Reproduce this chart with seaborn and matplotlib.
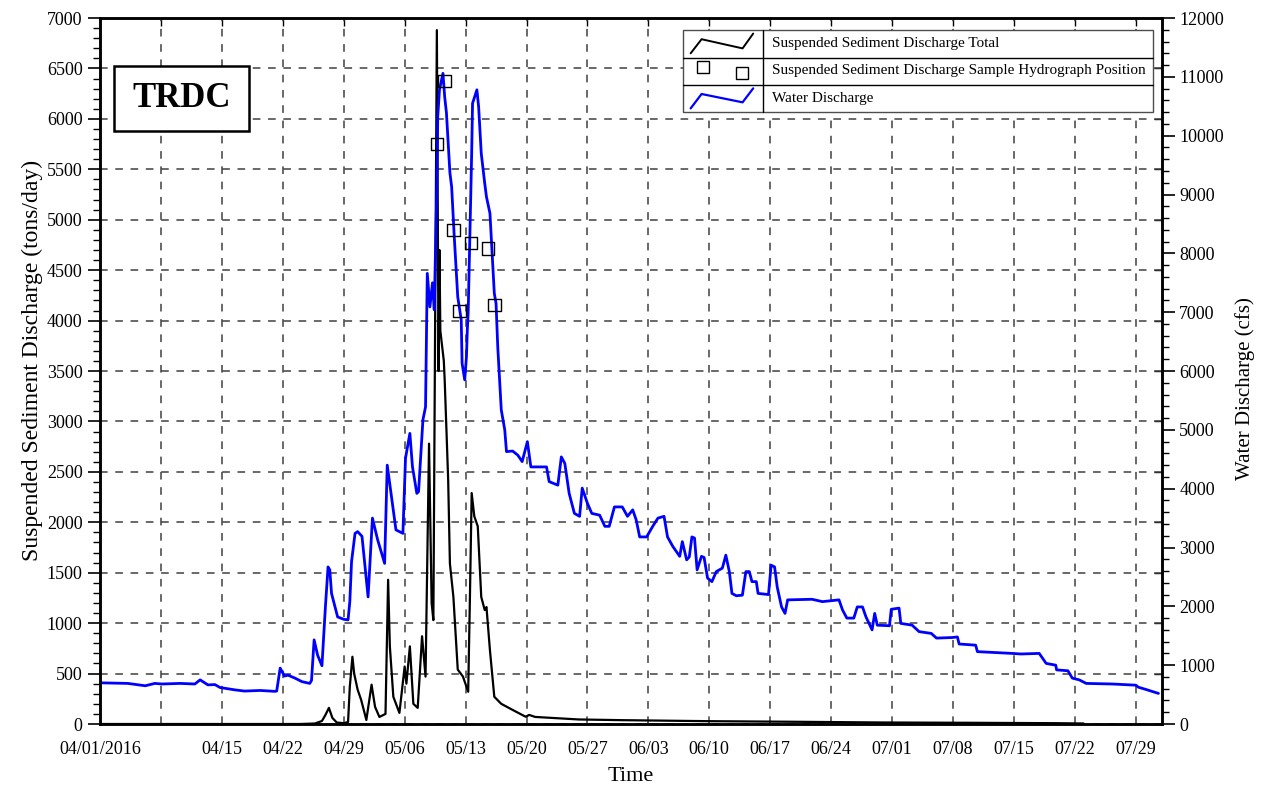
import numpy as np
import pandas as pd
import matplotlib
matplotlib.use('Agg')
import matplotlib.pyplot as plt
import matplotlib.dates as mdates
from matplotlib.ticker import MultipleLocator
from matplotlib.patches import Rectangle
import seaborn as sns

start = pd.Timestamp('2016-04-01')

# water discharge (cfs), time given as days since 04/01/2016
flow_days = [0.0, 3.2, 5.2, 6.3, 7.1, 9.2, 10.9, 11.5, 12.4, 13.2, 13.8, 15.5, 16.6, 18.4, 20.1, 20.3,
             20.7, 21.2, 21.6, 22.4, 23.2, 24.1, 24.3, 24.6, 25.0, 25.5, 25.9, 26.2, 26.4, 26.6, 27.3,
             28.0, 28.5, 28.7, 28.9, 29.3, 29.6, 30.1, 30.8, 31.3, 31.9, 32.7, 33.0, 34.0, 34.8, 35.1,
             35.6, 35.9, 36.4, 36.6, 37.1, 37.4, 37.6, 37.9, 38.2, 38.4, 38.7, 38.8, 39.0, 39.4, 39.6,
             39.8, 40.2, 40.4, 40.7, 41.1, 41.5, 41.6, 41.9, 42.1, 42.2, 42.3, 42.7, 42.8, 43.3, 43.5,
             43.8, 44.2, 44.4, 44.8, 45.3, 45.5, 45.7, 46.1, 46.5, 46.7, 47.4, 48.0, 48.5, 49.1, 49.5,
             51.3, 51.6, 52.6, 53.0, 53.4, 53.9, 54.5, 55.1, 55.4, 56.0, 56.5, 57.4, 58.0, 58.5, 59.1,
             60.0, 60.6, 61.2, 61.6, 62.0, 62.8, 63.5, 64.1, 64.8, 65.2, 65.8, 66.6, 66.9, 67.4, 67.7,
             68.0, 68.3, 68.6, 69.1, 69.4, 69.8, 70.3, 70.8, 71.5, 71.9, 72.3, 72.6, 73.1, 73.8, 74.2,
             74.6, 74.9, 75.4, 75.6, 76.8, 77.1, 77.5, 77.8, 78.3, 78.7, 79.0, 81.8, 83.0, 84.9, 85.3,
             85.8, 86.6, 87.0, 87.6, 88.0, 88.7, 89.0, 89.3, 90.7, 90.9, 91.8, 92.0, 93.3, 94.1, 95.5,
             96.1, 97.9, 98.5, 98.7, 100.6, 100.8, 104.8, 105.8, 107.9, 108.7, 109.8, 109.9, 111.2,
             111.7, 112.5, 113.3, 116.3, 119.0, 119.3, 120.1, 121.6]
flow_cfs = [700, 690, 650, 690, 680, 690, 680, 750, 665, 670, 620, 580, 560, 570, 555, 560,
            950, 815, 830, 780, 720, 690, 740, 1430, 1170, 990, 2000, 2670, 2620, 2220, 1820,
            1780, 1770, 2080, 2760, 3240, 3270, 3190, 2160, 3500, 3130, 2730, 4400, 3300, 3240, 4520,
            4940, 4370, 3920, 3950, 5170, 5390, 7660, 7090, 7500, 7040, 9130, 10320, 10780, 11060, 10660,
            10390, 9370, 9130, 8280, 7260, 6870, 6130, 5850, 6240, 6700, 7000, 9700, 10550, 10780, 10490,
            9700, 9190, 8960, 8680, 7320, 7150, 6400, 5340, 5000, 4630, 4640, 4570, 4460, 4800, 4370,
            4370, 4120, 4060, 4540, 4430, 3920, 3580, 3530, 4010, 3750, 3580, 3550, 3360, 3360, 3690,
            3690, 3530, 3640, 3470, 3180, 3180, 3360, 3500, 3530, 3180, 3020, 2850, 3100, 2790, 2840,
            3180, 3160, 2620, 2850, 2830, 2480, 2420, 2590, 2650, 2870, 2590, 2220, 2180, 2190, 2590,
            2590, 2420, 2420, 2220, 2200, 2700, 2670, 2330, 1990, 1880, 2110, 2120, 2080, 2110, 1940,
            1800, 1800, 1990, 1990, 1820, 1600, 1880, 1680, 1670, 1950, 1970, 1710, 1680, 1570, 1540,
            1460, 1470, 1480, 1360, 1340, 1230, 1200, 1190, 1200, 1030, 1000, 920, 905,
            780, 750, 690, 680, 660, 625, 590, 520]

# suspended sediment discharge (tons/day)
sed_days = [0.0, 23.0, 24.7, 25.5, 25.9, 26.3, 26.7, 27.2, 28.0, 28.5, 28.7, 29.0, 29.2, 29.6, 30.0,
            30.6, 31.2, 31.6, 32.1, 32.8, 33.1, 33.3, 33.7, 34.4, 35.0, 35.2, 35.6, 36.0, 36.5, 37.0,
            37.4, 37.8, 38.1, 38.3, 38.7, 38.9, 39.0, 39.1, 39.5, 39.6, 39.8, 40.0, 40.2, 40.6, 41.1,
            41.7, 42.3, 42.5, 42.7, 43.0, 43.4, 43.8, 44.2, 44.4, 44.8, 45.3, 46.1, 47.4, 48.9, 49.3,
            50.0, 55.0, 60.0, 70.0, 80.0, 90.0, 100.0, 110.0, 113.0]
sed_tons = [0, 0, 5, 30, 90, 160, 60, 15, 8, 20, 370, 667, 500, 340, 240,
            40, 390, 170, 70, 100, 1430, 770, 270, 110, 570, 400, 770, 200, 160, 870,
            470, 2780, 1200, 1030, 6880, 3500, 4700, 3900, 3600, 3410, 2920, 2420, 1590, 1260, 540,
            470, 320, 1260, 2290, 2060, 1960, 1260, 1130, 1160, 730, 270, 200, 140, 72, 90,
            70, 45, 38, 28, 22, 15, 12, 8, 5]

# sample hydrograph positions (cfs)
sample_days = [38.7, 39.6, 40.6, 41.3, 42.6, 44.6, 45.3]
sample_cfs = [9860, 10930, 8400, 7020, 8180, 8080, 7120]

tick_dates = pd.date_range('2016-04-01', '2016-07-29', freq='7D')
tick_labels = ['04/01/2016', ''] + [d.strftime('%m/%d') for d in tick_dates[2:]]

flow = pd.DataFrame({'time': start + pd.to_timedelta(flow_days, unit='D'), 'cfs': flow_cfs})
sed = pd.DataFrame({'time': start + pd.to_timedelta(sed_days, unit='D'), 'tons': sed_tons})
samples = pd.DataFrame({'time': start + pd.to_timedelta(sample_days, unit='D'), 'cfs': sample_cfs})

sns.set_style('white')
plt.rcParams['font.family'] = ['Liberation Serif', 'DejaVu Serif']
plt.rcParams['text.color'] = 'black'
plt.rcParams['axes.labelcolor'] = 'black'
plt.rcParams['xtick.color'] = 'black'
plt.rcParams['ytick.color'] = 'black'

fig = plt.figure(figsize=(12.77, 7.91), dpi=100)
ax = fig.add_axes([0.0783, 0.0847, 0.8316, 0.8925])
ax2 = ax.twinx()

sns.lineplot(data=sed, x='time', y='tons', ax=ax, color='black', linewidth=1.6)
sns.lineplot(data=flow, x='time', y='cfs', ax=ax2, color='#0000ff', linewidth=2.0)
sns.scatterplot(data=samples, x='time', y='cfs', ax=ax2, marker='s', s=80,
                facecolor='none', edgecolor='black', linewidth=1.0, zorder=5)

ax.set_xlim(pd.Timestamp('2016-04-01'), pd.Timestamp('2016-08-01'))
ax.set_ylim(0, 7000)
ax2.set_ylim(0, 12000)

ax.set_xticks(tick_dates)
ax.set_xticklabels(tick_labels)
ax.yaxis.set_major_locator(MultipleLocator(500))
ax.yaxis.set_minor_locator(MultipleLocator(100))
ax2.yaxis.set_major_locator(MultipleLocator(1000))
ax2.yaxis.set_minor_locator(MultipleLocator(200))

ax.grid(True, which='major', color='0.25', linestyle=(0, (5, 5)), linewidth=1.1)
ax.set_axisbelow(True)

ax.tick_params(axis='both', which='major', direction='out', length=9, width=1.2, labelsize=13, colors='black')
ax.tick_params(axis='y', which='minor', left=True, direction='out', length=5, width=1.0)
ax2.tick_params(axis='y', which='major', direction='out', length=9, width=1.2, labelsize=13, colors='black')
ax2.tick_params(axis='y', which='minor', right=True, direction='out', length=5, width=1.0)

# inward ticks on top / right edges
top = ax.secondary_xaxis('top')
top.set_xticks(mdates.date2num(tick_dates))
top.set_xticklabels([])
top.tick_params(direction='in', length=6, width=1.0)
right = ax.secondary_yaxis('right')
right.set_yticks(np.arange(0, 7001, 500))
right.set_yticklabels([])
right.tick_params(direction='in', length=6, width=1.0)

for a in [ax, ax2]:
    for s in a.spines.values():
        s.set_linewidth(1.8)
        s.set_color('black')
for a in [top, right]:
    for s in a.spines.values():
        s.set_visible(False)

ax.set_xlabel('Time', fontsize=16, labelpad=6)
ax.set_ylabel('Suspended Sediment Discharge (tons/day)', fontsize=17, labelpad=2)
ax.yaxis.set_label_coords(-0.054, 0.515)
ax2.set_ylabel('Water Discharge (cfs)', fontsize=15, labelpad=8)
ax2.yaxis.set_label_coords(1.069, 0.475)

# station box
ax2.add_patch(Rectangle((0.0132, 0.840), 0.1271, 0.092, transform=ax2.transAxes,
                        facecolor='white', edgecolor='black', linewidth=1.8, zorder=10))
ax2.text(0.0767, 0.886, 'TRDC', transform=ax2.transAxes, fontsize=25, fontweight='bold',
         ha='center', va='center', zorder=11)

# legend table
x0, x1, xd = 0.549, 0.9915, 0.624
rows = [0.983, 0.944, 0.905, 0.867]
ax2.add_patch(Rectangle((x0, rows[3]), x1 - x0, rows[0] - rows[3], transform=ax2.transAxes,
                        facecolor='white', edgecolor='0.3', linewidth=1.0, zorder=10))
for yy in rows[1:3]:
    ax2.plot([x0, x1], [yy, yy], transform=ax2.transAxes, color='black', linewidth=1.0, zorder=11)
ax2.plot([xd, xd], [rows[3], rows[0]], transform=ax2.transAxes, color='black', linewidth=1.0, zorder=11)
zx = [0.5562, 0.5665, 0.6051, 0.6151]
ax2.plot(zx, [0.950, 0.970, 0.957, 0.978], transform=ax2.transAxes, color='black', linewidth=1.4, zorder=12)
ax2.plot([0.568, 0.605], [0.930, 0.9215], transform=ax2.transAxes, linestyle='none', marker='s',
         markersize=8, markerfacecolor='white', markeredgecolor='black', markeredgewidth=1.0, zorder=12)
ax2.plot(zx, [0.872, 0.8924, 0.8806, 0.9004], transform=ax2.transAxes, color='#0000ff', linewidth=1.6, zorder=12)
legend_labels = ['Suspended Sediment Discharge Total',
                 'Suspended Sediment Discharge Sample Hydrograph Position',
                 'Water Discharge']
for lab, yy in zip(legend_labels, [0.9646, 0.925, 0.8867]):
    ax2.text(0.6324, yy, lab, transform=ax2.transAxes, fontsize=11, va='center', ha='left', zorder=12)

fig.savefig('out.png', dpi=100)
